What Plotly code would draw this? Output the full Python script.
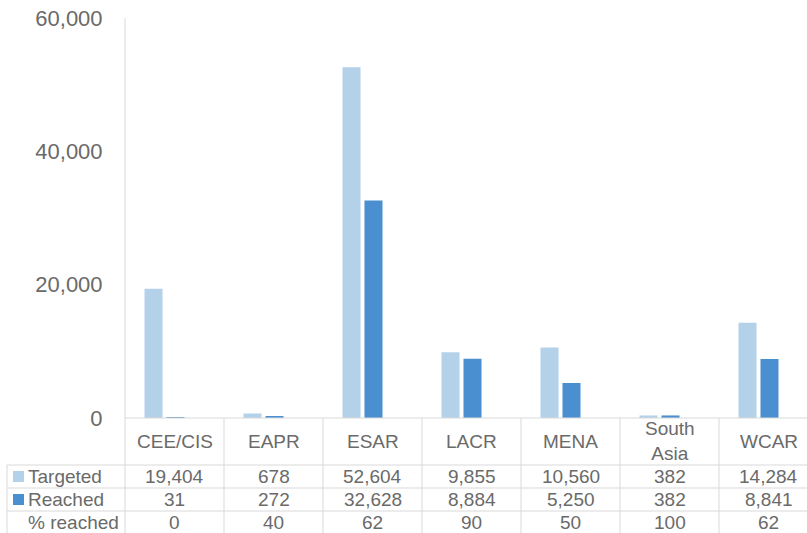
import plotly.graph_objects as go

categories = ["CEE/CIS", "EAPR", "ESAR", "LACR", "MENA", "South<br>Asia", "WCAR"]
targeted = [19404, 678, 52604, 9855, 10560, 382, 14284]
reached = [31, 272, 32628, 8884, 5250, 382, 8841]
pct_reached = [0, 40, 62, 90, 50, 100, 62]
y_ticks = [0, 20000, 40000, 60000]

W, H = 807, 533
C_LIGHT = "#b4d1ea"
C_DARK = "#4a90d0"
TXT = "#6a6a6a"
LINE = "#d9d9d9"

x0_px = 125          # left edge of plot / table body
col_w = 99           # table column width (px)
bar_shift = 10       # bars sit 10px left of table column centres
top_px, zero_px = 18, 418

def px_x(p):
    return p / W

def px_y(p):
    return 1 - p / H

idx = list(range(len(categories)))
r0 = -0.5 + bar_shift / col_w
r1 = r0 + (W - x0_px) / col_w

fig = go.Figure()
fig.add_trace(go.Bar(x=idx, y=targeted, name="Targeted", marker=dict(color=C_LIGHT, line=dict(width=0))))
fig.add_trace(go.Bar(x=idx, y=reached, name="Reached", marker=dict(color=C_DARK, line=dict(width=0))))

shapes = []
ann = []
shapes.append(dict(type="line", xref="paper", yref="paper", x0=px_x(x0_px), x1=px_x(x0_px),
                   y0=px_y(top_px), y1=0, line=dict(color=LINE, width=1)))
shapes.append(dict(type="line", xref="paper", yref="paper", x0=px_x(x0_px), x1=1,
                   y0=px_y(zero_px), y1=px_y(zero_px), line=dict(color=LINE, width=1)))
row_lines = [465, 488, 511]
for yl in row_lines:
    shapes.append(dict(type="line", xref="paper", yref="paper", x0=px_x(7), x1=1,
                       y0=px_y(yl), y1=px_y(yl), line=dict(color=LINE, width=1)))
shapes.append(dict(type="line", xref="paper", yref="paper", x0=px_x(7), x1=px_x(7),
                   y0=px_y(465), y1=0, line=dict(color=LINE, width=1)))
for i in range(1, len(categories)):
    xp = x0_px + col_w * i
    shapes.append(dict(type="line", xref="paper", yref="paper", x0=px_x(xp), x1=px_x(xp),
                       y0=px_y(zero_px), y1=0, line=dict(color=LINE, width=1)))

rows_y = {"head": 441, "t": 476.5, "r": 499.5, "p": 522}
fs = 19
for i, c in enumerate(categories):
    cx = px_x(x0_px + col_w * (i + 0.5))
    ann.append(dict(x=cx, y=px_y(rows_y["head"]), xref="paper", yref="paper", text=c, showarrow=False,
                    font=dict(size=fs, color=TXT), xanchor="center", yanchor="middle"))
    ann.append(dict(x=cx, y=px_y(rows_y["t"]), xref="paper", yref="paper", text=f"{targeted[i]:,}",
                    showarrow=False, font=dict(size=fs, color=TXT), xanchor="center", yanchor="middle"))
    ann.append(dict(x=cx, y=px_y(rows_y["r"]), xref="paper", yref="paper", text=f"{reached[i]:,}",
                    showarrow=False, font=dict(size=fs, color=TXT), xanchor="center", yanchor="middle"))
    ann.append(dict(x=cx, y=px_y(rows_y["p"]), xref="paper", yref="paper", text=f"{pct_reached[i]}",
                    showarrow=False, font=dict(size=fs, color=TXT), xanchor="center", yanchor="middle"))

labels = [("Targeted", rows_y["t"], C_LIGHT), ("Reached", rows_y["r"], C_DARK), ("% reached", rows_y["p"], None)]
for text, yy, col in labels:
    ann.append(dict(x=px_x(26), y=px_y(yy), xref="paper", yref="paper", text=text, showarrow=False,
                    font=dict(size=fs, color=TXT), xanchor="left", yanchor="middle"))
    if col:
        shapes.append(dict(type="rect", xref="paper", yref="paper", x0=px_x(13), x1=px_x(24),
                           y0=px_y(yy - 5.5), y1=px_y(yy + 5.5), fillcolor=col, line=dict(width=0)))

fig.update_layout(
    width=W, height=H,
    margin=dict(l=0, r=0, t=0, b=0, pad=0, autoexpand=False),
    paper_bgcolor="white", plot_bgcolor="white",
    barmode="group", bargap=0.556, bargroupgap=0.18,
    showlegend=False,
    font=dict(family="Liberation Sans, Arial, sans-serif", color=TXT),
    xaxis=dict(domain=[px_x(x0_px), 1], range=[r0, r1], showticklabels=False, showgrid=False,
               zeroline=False, showline=False, ticks="", automargin=False),
    yaxis=dict(domain=[px_y(zero_px), px_y(top_px)], range=[0, 60000], tickvals=y_ticks,
               tickformat=",", showgrid=False, zeroline=False, showline=False,
               ticks="outside", ticklen=17, tickcolor="rgba(0,0,0,0)", automargin=False,
               tickfont=dict(size=22, color=TXT)),
    shapes=shapes, annotations=ann,
)

fig.write_html("out.html", config={"displayModeBar": False},
               post_script="document.body.style.margin='0';document.body.style.overflow='hidden';")
